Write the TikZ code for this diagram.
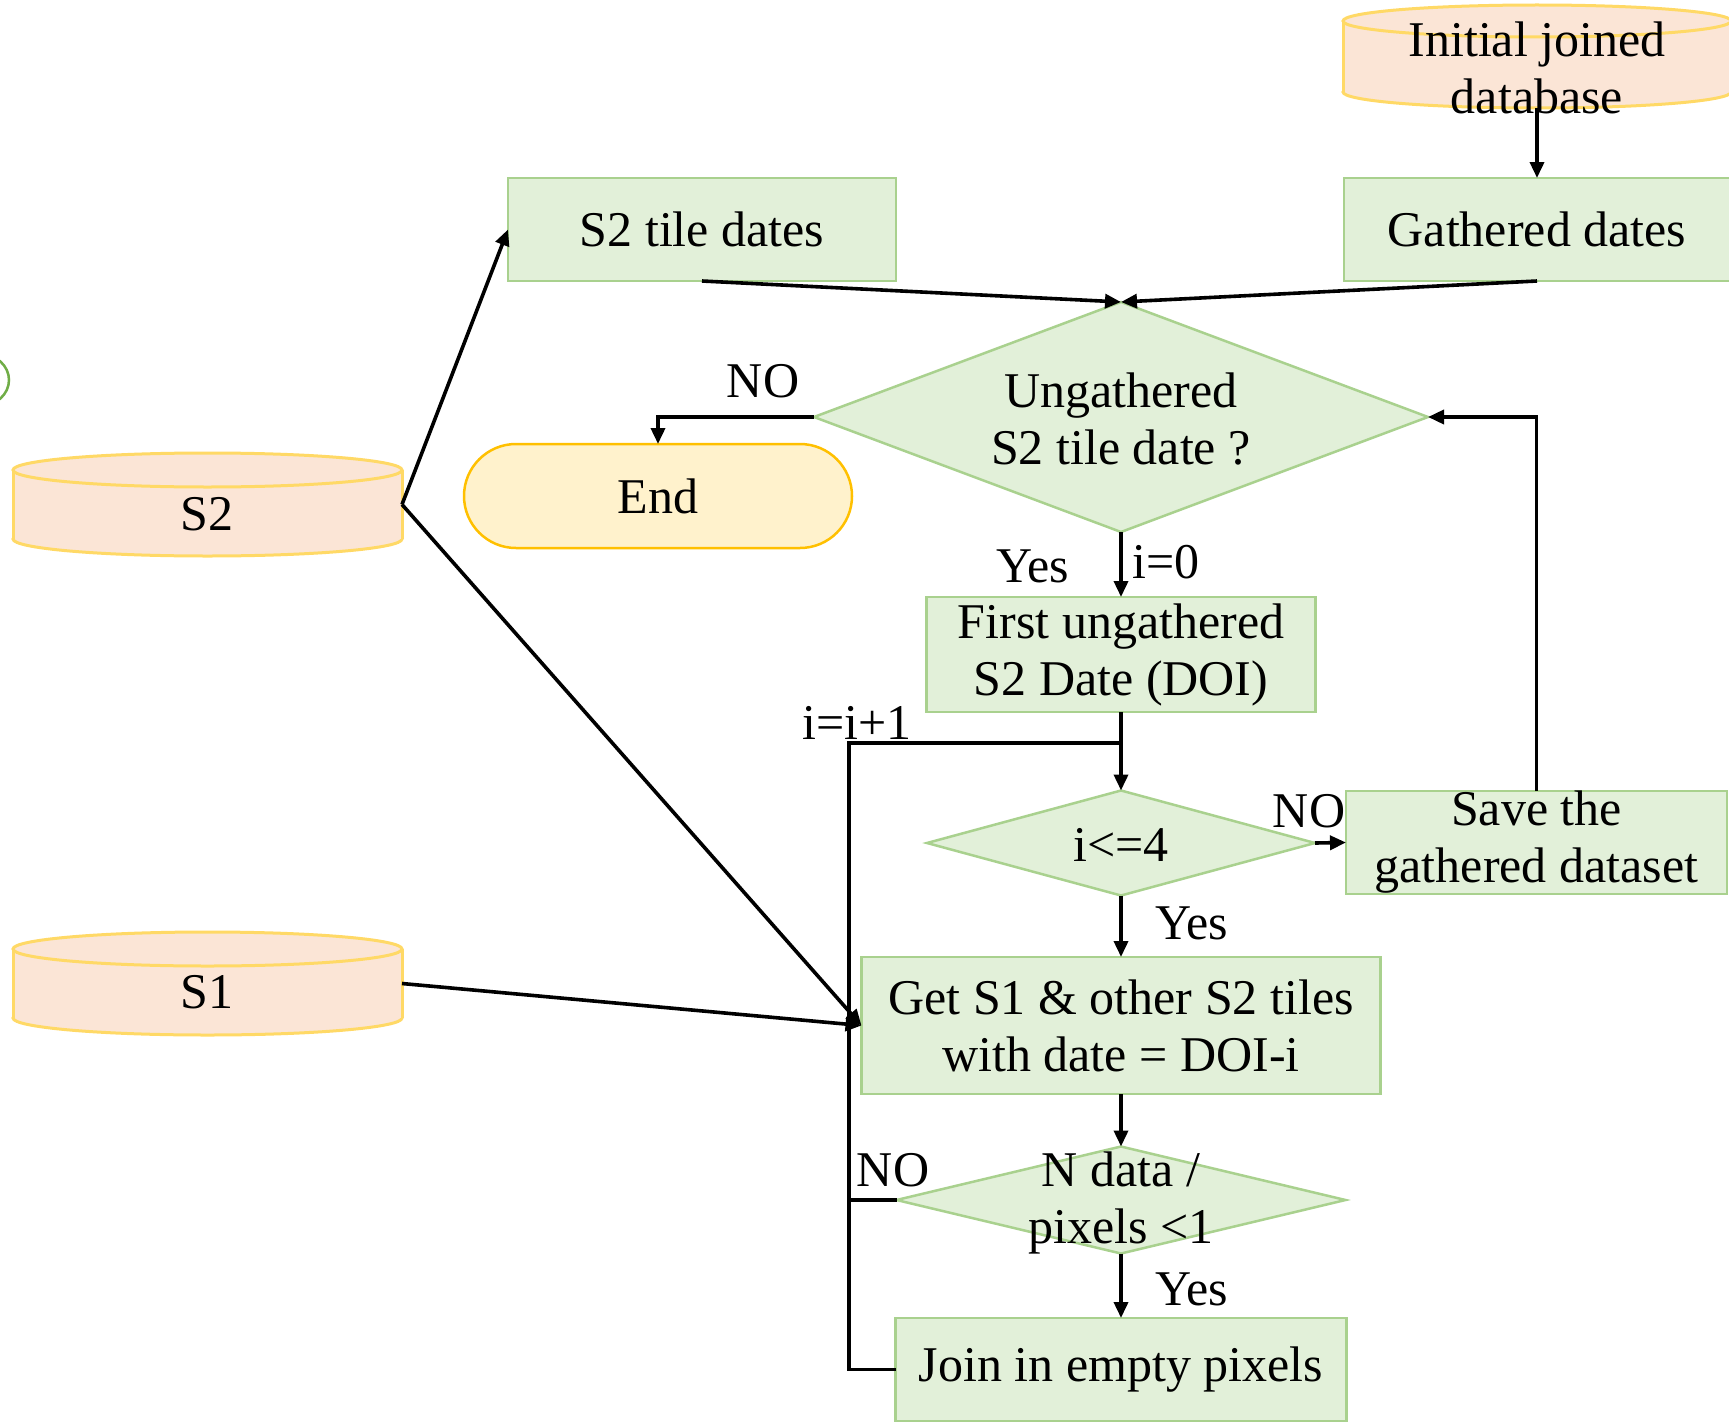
\documentclass[tikz,border=0pt]{standalone}
\usepackage{fontspec}
\setmainfont{Liberation Serif}
\usetikzlibrary{shapes.geometric,arrows.meta}
\definecolor{gfill}{HTML}{E2F0D9}
\definecolor{gline}{HTML}{A9D18E}
\definecolor{cfill}{HTML}{FBE5D6}
\definecolor{cline}{HTML}{FFD966}
\definecolor{efill}{HTML}{FFF2CC}
\definecolor{eline}{HTML}{FFC000}
\definecolor{arcg}{HTML}{70AD47}
\newcommand\dbcyl[5]{%
  \pgfmathsetmacro\dbcx{(#1+#2)/2}\pgfmathsetmacro\dbrx{(#2-#1)/2}%
  \filldraw[cylst] (\dbcx,#4) ellipse[x radius=\dbrx, y radius=#5];
  \fill[cfill] (#1,#3) rectangle (#2,#4);
  \draw[cylst] (#1,#3) -- (#1,#4) (#2,#3) -- (#2,#4);
  \filldraw[cylst] (\dbcx,#3) ellipse[x radius=\dbrx, y radius=#5];}
\begin{document}
\begin{tikzpicture}[x=1pt,y=-1pt,
  txt/.style={font=\fontsize{50}{57}\selectfont, align=center, inner sep=0pt},
  box/.style={txt, rectangle, draw=gline, fill=gfill, line width=2.5pt, outer sep=0pt},
  dia/.style={diamond, draw=gline, fill=gfill, line width=2.5pt, inner sep=0pt, outer sep=0pt},
  cylst/.style={draw=cline, fill=cfill, line width=3pt},
  hold/.style={rectangle, inner sep=0pt, outer sep=0pt},
  flow/.style={line width=3.6pt, -{Triangle[length=16pt,width=14pt]}},
  conn/.style={line width=3.6pt},
  lbl/.style={txt}
]
\useasboundingbox (0,0) rectangle (1729,1426);
\fill[white] (0,0) rectangle (1729,1426);

% stray arc at left edge and cylinder cut at right edge
\begin{scope}
\clip (0,0) rectangle (1729,1426);
\draw[arcg, line width=2.5pt] (-20,380) ellipse[x radius=29, y radius=26];
\dbcyl{1343}{1731}{21}{92}{16}
\end{scope}

% cylinders
\dbcyl{13}{402}{470}{539}{17}
\dbcyl{13}{402}{949}{1018}{17}

\node[hold, minimum width=388pt, minimum height=103pt] (IJD) at (1537,56.5) {};
\node[txt] (IJDt) at (1537,68) {Initial joined\\database};
\node[hold, minimum width=389pt, minimum height=103pt] (S2) at (207.5,504.5) {};
\node[txt] (S2t) at (207,514) {S2};
\node[hold, minimum width=389pt, minimum height=103pt] (S1) at (207.5,983.5) {};
\node[txt] (S1t) at (207,992) {S1};

% boxes
\node[box, minimum width=388pt, minimum height=103pt] (S2T) at (702,229.5) {S2 tile dates};
\node[box, minimum width=386pt, minimum height=103pt] (GD) at (1537,229.5) {Gathered dates};
\node[box, minimum width=389pt, minimum height=115pt] (First) at (1121,654.5) {First ungathered\\S2 Date (DOI)};
\node[box, minimum width=381pt, minimum height=103pt] (Save) at (1536.5,842.5) {Save the\\gathered dataset};
\node[box, minimum width=519pt, minimum height=137pt] (Get) at (1121,1025.5) {Get S1 \& other S2 tiles\\with date = DOI-i};
\node[box, minimum width=451pt, minimum height=103pt] (Join) at (1121,1369.5) {Join in empty pixels};
\node[txt, rectangle, draw=eline, fill=efill, line width=2.5pt, outer sep=0pt,
      rounded corners=52pt, minimum width=388pt, minimum height=104pt] (End) at (658,496) {End};

% diamonds
\node[dia, minimum width=614pt, minimum height=230pt] (D1) at (1121,417) {};
\node[txt] (D1t) at (1121,419) {Ungathered\\S2 tile date ?};
\node[dia, minimum width=388pt, minimum height=105pt] (D2) at (1121,843) {};
\node[txt] (D2t) at (1121,845) {i<=4};
\node[dia, minimum width=449pt, minimum height=107pt] (D3) at (1121,1200) {};
\node[txt] (D3t) at (1121,1203) {N data /\\pixels <1};

% connectors
\coordinate (LT) at (849,743);
\draw[flow] (IJD.south) -- (GD.north);
\draw[flow] (S2T.south) -- (D1.north);
\draw[flow] (GD.south) -- (D1.north);
\draw[flow] (D1.west) -| (End.north);
\draw[flow] (D1.south) -- (First.north);
\draw[flow] (First.south) -- (D2.north);
\draw[flow] (D2.east) -- (Save.west);
\draw[flow] (Save.north) |- (D1.east);
\draw[flow] (D2.south) -- (Get.north);
\draw[flow] (Get.south) -- (D3.north);
\draw[flow] (D3.south) -- (Join.north);
\draw[conn] (Join.west) -| (LT) -- (LT -| First.south);
\draw[conn] (D3.west) -- (D3.west -| LT);
\draw[flow] (S2.east) -- (S2T.west);
\draw[flow] (S2.east) -- (Get.west);
\draw[flow] (S1.east) -- (Get.west);

% labels
\node[lbl] (l1) at (763,381) {NO};
\node[lbl] (l2) at (1033,566) {Yes};
\node[lbl] (l3) at (1166,562) {i=0};
\node[lbl] (l4) at (857,723) {i=i+1};
\node[lbl] (l5) at (1309,811) {NO};
\node[lbl] (l6) at (1192,923) {Yes};
\node[lbl] (l7) at (893,1170) {NO};
\node[lbl] (l8) at (1192,1289) {Yes};
\end{tikzpicture}
\end{document}
